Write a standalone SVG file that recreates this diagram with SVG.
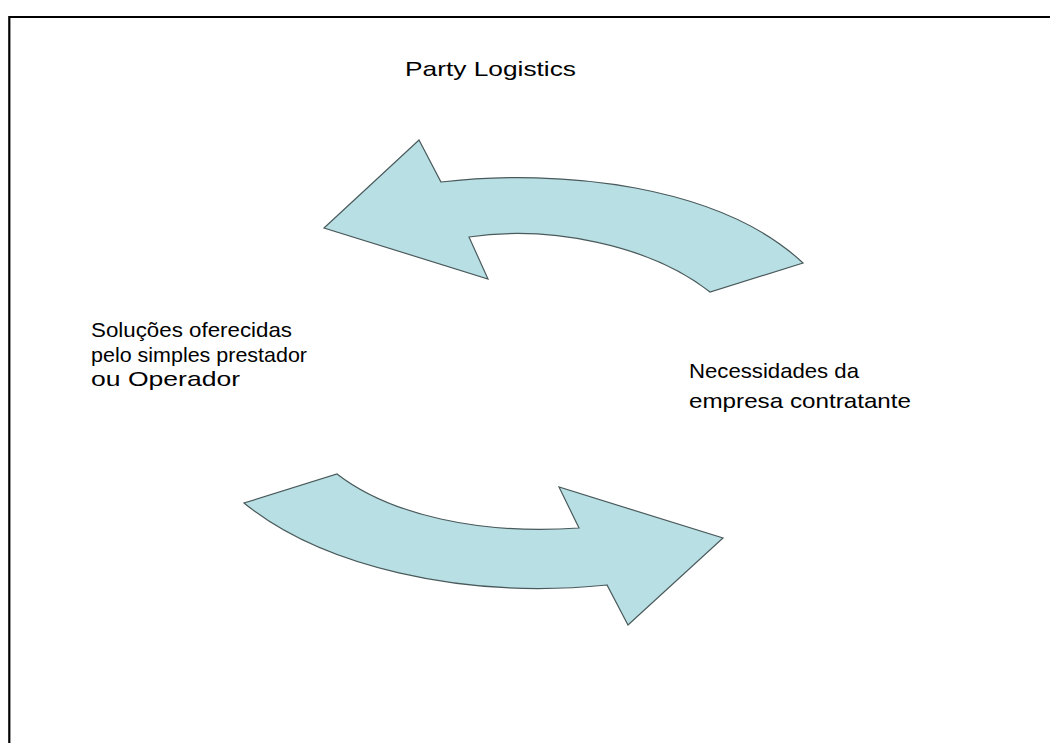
<svg xmlns="http://www.w3.org/2000/svg" width="1050" height="743" viewBox="0 0 1050 743">
<style>
.arrow{fill:#b8dfe3;stroke:#4a5a5c;stroke-width:1.2;stroke-linejoin:miter}
.t{font-family:"Liberation Sans",Arial,sans-serif;font-size:21px;fill:#000}
</style>
<rect width="1050" height="743" fill="#fff"/>
<path d="M9.3,743 V17 H1050" fill="none" stroke="#000" stroke-width="2.2"/>
<g id="connectors">
<path id="arrow-top" class="arrow" d="M324,228 L419,140 L441,182 C560,168 720,185 803,263 L710,292 C650,245 550,225 469,237 L488,279 Z"/>
<path id="arrow-bottom" class="arrow" d="M337,474 C390,515 480,535 579,528 L559,487 L723,538 L628,625 L607,585 C460,600 320,565 244,503 Z"/>
</g>
<g id="node-title">
<text class="t" x="405" y="76" textLength="171" lengthAdjust="spacingAndGlyphs">Party Logistics</text>
</g>
<g id="node-left">
<text class="t" x="91" y="337" textLength="201" lengthAdjust="spacingAndGlyphs">Soluções oferecidas</text>
<text class="t" x="91" y="361.5" textLength="216" lengthAdjust="spacingAndGlyphs">pelo simples prestador</text>
<text class="t" x="91" y="386" textLength="149" lengthAdjust="spacingAndGlyphs">ou Operador</text>
</g>
<g id="node-right">
<text class="t" x="689" y="378" textLength="170" lengthAdjust="spacingAndGlyphs">Necessidades da</text>
<text class="t" x="689" y="408" textLength="222" lengthAdjust="spacingAndGlyphs">empresa contratante</text>
</g>
</svg>
